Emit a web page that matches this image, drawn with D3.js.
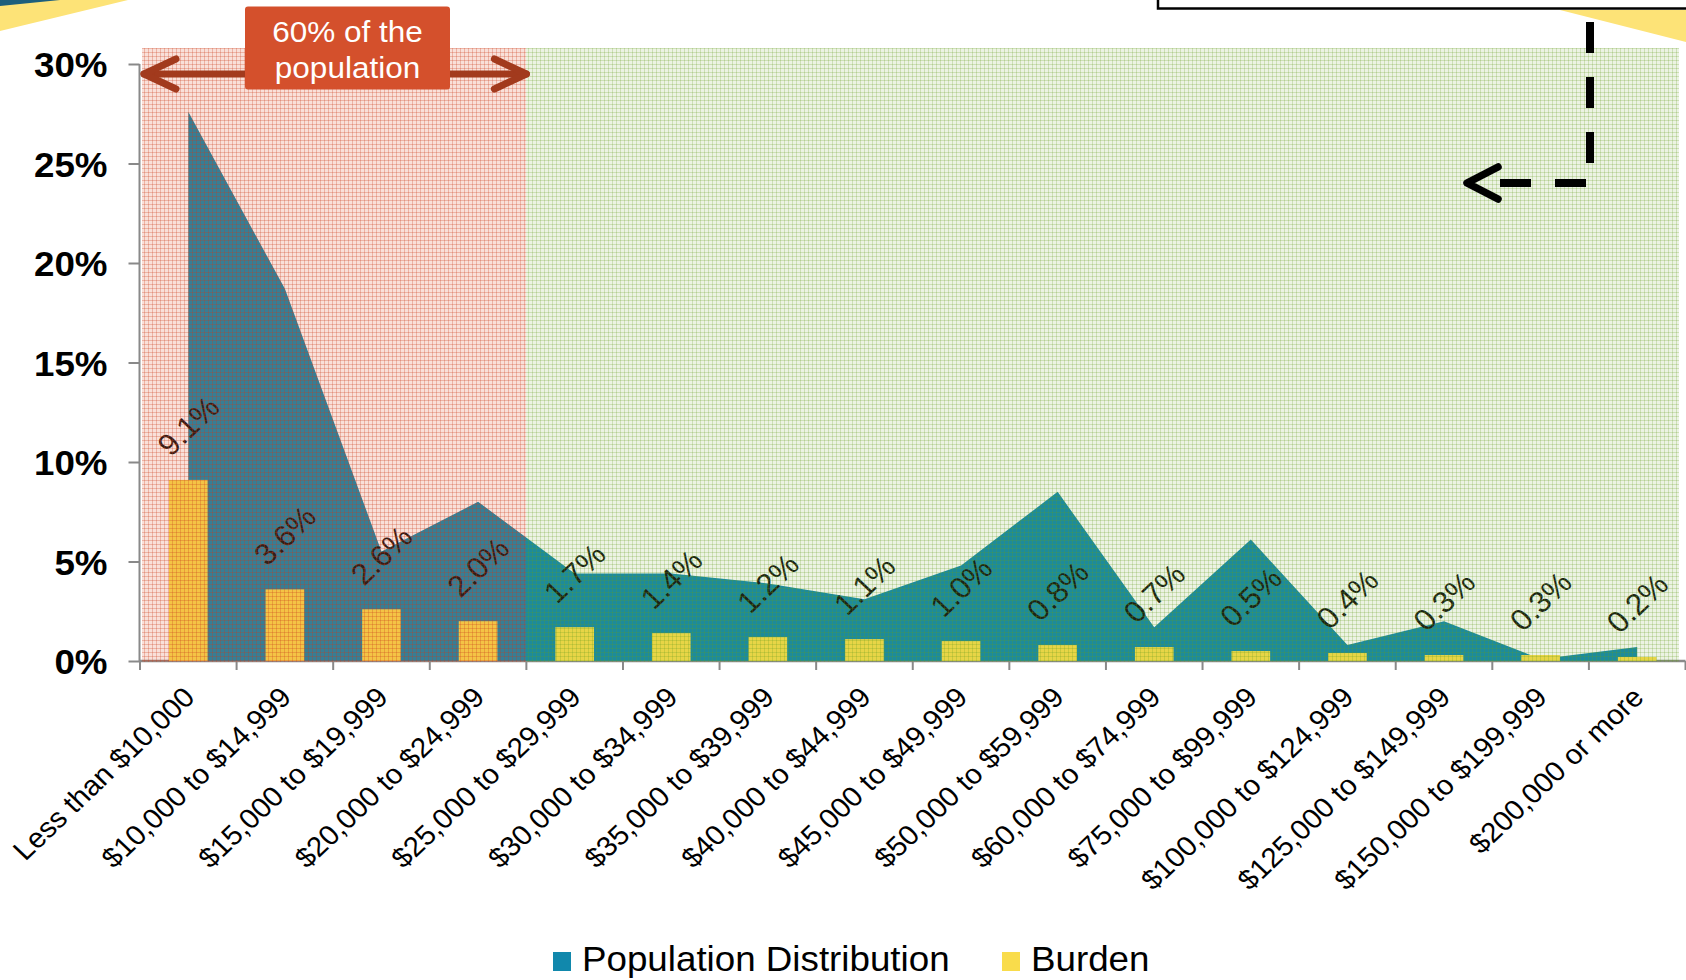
<!DOCTYPE html>
<html>
<head>
<meta charset="utf-8">
<script src="https://cdn.jsdelivr.net/npm/d3@7"></script>
<style>
  html, body { margin: 0; padding: 0; background: #ffffff; overflow: hidden; }
  svg { display: block; font-family: "Liberation Sans", Arial, Helvetica, sans-serif; }
</style>
</head>
<body>
<svg id="chart" width="1686" height="980"></svg>
<script>
// Household income brackets
const categories = [
  "Less than $10,000", "$10,000 to $14,999", "$15,000 to $19,999", "$20,000 to $24,999",
  "$25,000 to $29,999", "$30,000 to $34,999", "$35,000 to $39,999", "$40,000 to $44,999",
  "$45,000 to $49,999", "$50,000 to $59,999", "$60,000 to $74,999", "$75,000 to $99,999",
  "$100,000 to $124,999", "$125,000 to $149,999", "$150,000 to $199,999", "$200,000 or more"
];
// Share of population in each bracket (%)
const populationDistribution = [27.6, 18.7, 5.5, 8.0, 4.4, 4.4, 3.9, 3.1, 4.8, 8.5, 1.7, 6.1, 0.8, 2.0, 0.1, 0.7];
// Burden as a share of income (%)
const burden = [9.1, 3.6, 2.6, 2.0, 1.7, 1.4, 1.2, 1.1, 1.0, 0.8, 0.7, 0.5, 0.4, 0.3, 0.3, 0.2];
const yTicks = [0, 5, 10, 15, 20, 25, 30];
const seriesNames = ["Population Distribution", "Burden"];
const highlightCount = 4;               // brackets covered by the callout
const calloutLines = ["60% of the", "population"];

const colors = { population: "#1188AC", burden: "#F9DC4B", axis: "#898989" };
const stretch = 1.05;                   // slight horizontal widening of the type

const svg = d3.select("#chart");
const defs = svg.append("defs");

function gridPattern(id, base, line) {
  const p = defs.append("pattern").attr("id", id)
    .attr("patternUnits", "userSpaceOnUse").attr("width", 4).attr("height", 4);
  p.append("rect").attr("width", 4).attr("height", 4).attr("fill", base);
  p.append("rect").attr("width", 4).attr("height", 1).attr("fill", line);
  p.append("rect").attr("width", 1).attr("height", 4).attr("fill", line);
}
gridPattern("gridPink", "rgba(220,85,45,0.18)", "rgba(205,60,25,0.27)");
gridPattern("gridGreen", "rgba(110,160,40,0.13)", "rgba(100,155,30,0.23)");

const x = d3.scaleBand().domain(categories).range([140, 1685.5]).paddingInner(0).paddingOuter(0);
const y = d3.scaleLinear().domain([0, 30]).range([661, 64]);
const bw = x.bandwidth();
const cx = c => x(c) + bw / 2;
const plotTop = 48;

const stretched = (px, py, rot) => `translate(${px},${py}) scale(${stretch},1)` + (rot ? ` rotate(${rot})` : "");

// decorative corner shapes
svg.append("polygon").attr("points", "0,0 128,0 0,31").attr("fill", "#FDE377");
svg.append("polygon").attr("points", "0,0 60,0 0,6").attr("fill", "#1D5F7C");
svg.append("rect").attr("x", 1158).attr("y", -20).attr("width", 600).attr("height", 28.5)
  .attr("fill", "#ffffff").attr("stroke", "#000").attr("stroke-width", 2.5);
svg.append("polygon").attr("points", "1560,10 1690,10 1690,43").attr("fill", "#FDE377");

// axes (drawn first so the shaded bands sit over the baseline)
const yAxis = svg.append("g").attr("transform", `translate(139.5,0)`)
  .call(d3.axisLeft(y).tickValues(yTicks).tickSize(11).tickFormat(d => d + "%"));
yAxis.select(".domain").attr("stroke", colors.axis).attr("stroke-width", 2)
  .attr("d", `M0,${y(0)}V${y(30)}`);
yAxis.selectAll(".tick line").attr("stroke", colors.axis).attr("stroke-width", 2);
yAxis.selectAll(".tick text")
  .attr("x", null).attr("dy", null)
  .attr("transform", `translate(-32,0) scale(${stretch},1)`)
  .attr("dy", "0.36em")
  .attr("text-anchor", "end")
  .attr("fill", "#000").attr("font-size", 35).attr("font-weight", "bold")
  .attr("font-family", "'Liberation Sans', Arial, sans-serif");

const xAxis = svg.append("g");
xAxis.append("line").attr("x1", x.range()[0]).attr("x2", x.range()[1])
  .attr("y1", y(0)).attr("y2", y(0)).attr("stroke", colors.axis).attr("stroke-width", 2.5);
const boundaries = categories.map(c => x(c)).concat([x.range()[1]]);
xAxis.selectAll("line.tick").data(boundaries).join("line").attr("class", "tick")
  .attr("x1", d => d).attr("x2", d => d).attr("y1", y(0)).attr("y2", y(0) + 9)
  .attr("stroke", colors.axis).attr("stroke-width", 2);
xAxis.selectAll("text").data(categories).join("text")
  .attr("transform", d => stretched(cx(d) + 8, y(0) + 38, -45))
  .attr("text-anchor", "end").attr("font-size", 28).attr("fill", "#000")
  .text(d => d);

// population distribution area
const area = d3.area()
  .x((d, i) => cx(categories[i]))
  .y0(y(0)).y1(d => y(d));
svg.append("path").datum(populationDistribution).attr("d", area).attr("fill", colors.population);

// burden bars
svg.selectAll("rect.bar").data(burden).join("rect").attr("class", "bar")
  .attr("x", (d, i) => x(categories[i]) + bw * 0.3)
  .attr("width", bw * 0.4)
  .attr("y", d => y(d)).attr("height", d => y(0) - y(d))
  .attr("fill", colors.burden);

// bar value labels
svg.selectAll("text.val").data(burden).join("text").attr("class", "val")
  .attr("transform", (d, i) => stretched(cx(categories[i]), y(d) - 54, -45))
  .attr("text-anchor", "middle").attr("dy", "0.35em")
  .attr("font-size", 30).attr("fill", "#111")
  .text(d => d3.format(".1f")(d) + "%");

// shaded bands: low-income brackets vs the rest
const splitX = x(categories[highlightCount - 1]) + bw;
svg.append("rect").attr("x", Math.round(x(categories[0])) + 2).attr("y", plotTop)
  .attr("width", Math.round(splitX) - Math.round(x(categories[0])) - 2).attr("height", y(0) + 1 - plotTop)
  .attr("fill", "url(#gridPink)");
svg.append("rect").attr("x", Math.round(splitX)).attr("y", plotTop)
  .attr("width", Math.round(x.range()[1] - 7) - Math.round(splitX)).attr("height", y(0) + 1 - plotTop)
  .attr("fill", "url(#gridGreen)");

// double-headed arrow across the highlighted brackets
const arrowY = 74, arrowColor = "#A23A1D";
const ax0 = x(categories[0]) + 4, ax1 = splitX;
const arrow = svg.append("g").attr("stroke", arrowColor).attr("stroke-width", 7)
  .attr("stroke-linecap", "round").attr("stroke-linejoin", "round").attr("fill", "none");
arrow.append("path").attr("d", `M${ax0},${arrowY}H${ax1}`);
arrow.append("path").attr("d", `M${ax0 + 32},${arrowY - 15}L${ax0},${arrowY}L${ax0 + 32},${arrowY + 15}`);
arrow.append("path").attr("d", `M${ax1 - 32},${arrowY - 15}L${ax1},${arrowY}L${ax1 - 32},${arrowY + 15}`);

// callout box
svg.append("rect").attr("x", 245).attr("y", 6.5).attr("width", 205).attr("height", 83)
  .attr("rx", 3).attr("fill", "#D4502C");
svg.selectAll("text.callout").data(calloutLines).join("text").attr("class", "callout")
  .attr("transform", (d, i) => stretched(347.5, 41.5 + i * 36.5))
  .attr("text-anchor", "middle").attr("font-size", 30).attr("fill", "#ffffff")
  .text(d => d);

// dashed pointer arrow at the upper right
svg.append("path").attr("d", "M1590,22V183H1496")
  .attr("fill", "none").attr("stroke", "#000").attr("stroke-width", 8)
  .attr("stroke-dasharray", "31,24");
svg.append("path").attr("d", "M1498,167L1467,183L1498,199")
  .attr("fill", "none").attr("stroke", "#000").attr("stroke-width", 7.5)
  .attr("stroke-linecap", "round").attr("stroke-linejoin", "round");

// legend
const legend = svg.append("g");
const legendItems = [
  { name: seriesNames[0], color: colors.population, x: 553 },
  { name: seriesNames[1], color: colors.burden, x: 1002 }
];
legendItems.forEach(item => {
  legend.append("rect").attr("x", item.x).attr("y", 952).attr("width", 18).attr("height", 19)
    .attr("fill", item.color);
  legend.append("text").attr("transform", stretched(item.x + 29, 971))
    .attr("font-size", 35).attr("fill", "#000").text(item.name);
});
</script>
</body>
</html>
